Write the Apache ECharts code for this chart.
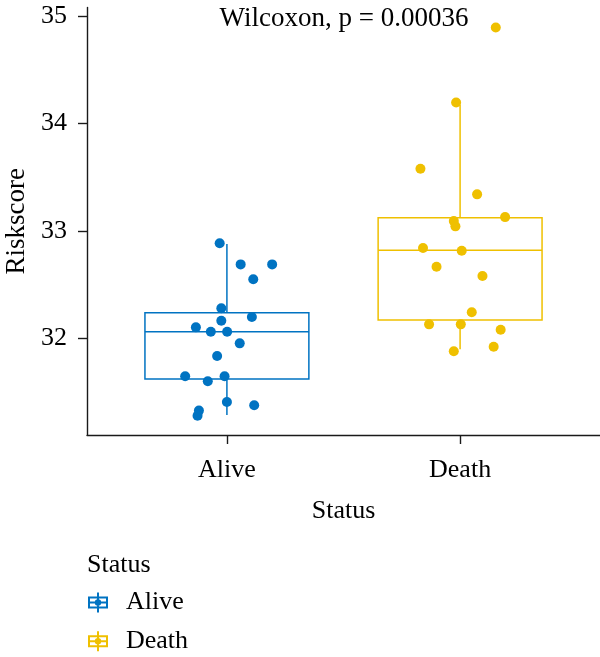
<!DOCTYPE html>
<html>
<head>
<meta charset="utf-8">
<script src="https://cdn.jsdelivr.net/npm/echarts@6/dist/echarts.min.js"></script>
<style>html,body{margin:0;padding:0;background:#fff}#c{width:600px;height:657px}</style>
</head>
<body>
<div id="c"></div>
<script>
// ---- data ----
const categories = ['Alive', 'Death'];
const aliveRisk = [32.884, 32.688, 32.688, 32.549, 32.279, 32.198, 32.164, 32.102, 32.061, 32.061,
                   31.953, 31.835, 31.647, 31.647, 31.600, 31.407, 31.377, 31.327, 31.280];
const aliveJitter = [0.969, 1.059, 1.194, 1.113, 0.976, 1.107, 0.976, 0.867, 0.931, 1.001,
                     1.055, 0.958, 0.821, 0.990, 0.918, 1.000, 1.117, 0.880, 0.874];
const deathRisk = [34.893, 34.195, 33.578, 33.340, 33.128, 33.091, 33.042, 32.840, 32.815,
                   32.666, 32.580, 32.242, 32.130, 32.130, 32.080, 31.922, 31.879];
const deathJitter = [2.153, 1.983, 1.830, 2.073, 2.193, 1.973, 1.980, 1.841, 2.007,
                     1.899, 2.096, 2.050, 1.867, 2.003, 2.174, 2.144, 1.973];
// box stats: [lower whisker, Q1, median, Q3, upper whisker]
const aliveBox = [31.287, 31.621, 32.062, 32.238, 32.877];
const deathBox = [31.898, 32.170, 32.820, 33.122, 34.175];
const yTicks = [32, 33, 34, 35];
const pLabel = 'Wilcoxon, p = 0.00036';

// ---- style ----
const colors = ['#0073C2', '#EFC000'];
const FONT = 'Liberation Serif';
const BOX_HALF = 0.3515;

const chart = echarts.init(document.getElementById('c'), null, {renderer: 'canvas'});

function renderBox(params, api) {
  const x = api.value(0);
  const tl = api.coord([x - BOX_HALF, api.value(4)]);
  const br = api.coord([x + BOX_HALF, api.value(2)]);
  const med = api.coord([x, api.value(3)]);
  const lo = api.coord([x, api.value(1)]);
  const hi = api.coord([x, api.value(5)]);
  const col = colors[params.dataIndex];
  const ls = {stroke: col, lineWidth: 1.5, fill: null};
  return {
    type: 'group',
    children: [
      {type: 'line', shape: {x1: hi[0], y1: hi[1], x2: hi[0], y2: tl[1]}, style: ls},
      {type: 'line', shape: {x1: lo[0], y1: br[1], x2: lo[0], y2: lo[1]}, style: ls},
      {type: 'rect', shape: {x: tl[0], y: tl[1], width: br[0] - tl[0], height: br[1] - tl[1]},
       style: {stroke: col, lineWidth: 1.5, fill: '#ffffff'}},
      {type: 'line', shape: {x1: tl[0], y1: med[1], x2: br[0], y2: med[1]}, style: ls}
    ]
  };
}

const legendIcon = 'path://M0 4H20V16H0Z' +
  'M2 6V9H9V6Z' + 'M11 6V9H18V6Z' +
  'M2 11V14H9V11Z' + 'M11 11V14H18V11Z' +
  'M9 0H11V4H9Z' + 'M9 16H11V20H9Z' +
  'M13.2 10A3.2 3.2 0 1 1 6.8 10A3.2 3.2 0 1 1 13.2 10Z';

const option = {
  backgroundColor: '#ffffff',
  animation: false,
  textStyle: {fontFamily: FONT},
  grid: {left: 87, top: 7.4, width: 513, height: 427.6, containLabel: false, outerBoundsMode: 'none'},
  xAxis: {
    type: 'value', min: 0.4, max: 2.6,
    name: 'Status', nameLocation: 'middle', nameGap: 63,
    nameTextStyle: {fontFamily: FONT, fontSize: 26, color: '#000'},
    axisLine: {show: true, onZero: false, lineStyle: {color: '#1a1a1a', width: 1.4}},
    axisTick: {show: true, customValues: [1, 2], length: 9, lineStyle: {color: '#1a1a1a', width: 1.4}},
    axisLabel: {customValues: [1, 2], margin: 22, fontFamily: FONT, fontSize: 26, color: '#000',
      formatter: v => categories[Math.round(v) - 1]},
    splitLine: {show: false}
  },
  yAxis: {
    type: 'value', min: 31.1, max: 35.08,
    name: 'Riskscore', nameLocation: 'middle', nameGap: 55, nameRotate: 90,
    nameTextStyle: {fontFamily: FONT, fontSize: 27, color: '#000'},
    axisLine: {show: true, onZero: false, lineStyle: {color: '#1a1a1a', width: 1.4}},
    axisTick: {show: true, customValues: yTicks, length: 9, lineStyle: {color: '#1a1a1a', width: 1.4}},
    axisLabel: {customValues: yTicks, margin: 20, fontFamily: FONT, fontSize: 26, color: '#000'},
    splitLine: {show: false}
  },
  legend: {
    orient: 'vertical', left: 88, top: 589.5, height: 120, padding: 0,
    itemWidth: 20, itemHeight: 20, itemGap: 12.8, selectedMode: false,
    icon: legendIcon,
    textStyle: {fontFamily: FONT, fontSize: 26, lineHeight: 20, color: '#000', padding: [0, 0, 0, 13]},
    data: categories
  },
  graphic: [
    {type: 'text', x: 344, y: 19, style: {text: pLabel, font: '27px "Liberation Serif"', fill: '#000',
      textAlign: 'center', textVerticalAlign: 'middle'}},
    {type: 'text', x: 87, y: 565, style: {text: 'Status', font: '26px "Liberation Serif"', fill: '#000',
      textAlign: 'left', textVerticalAlign: 'middle'}}
  ],
  series: [
    {
      type: 'custom', name: 'box', renderItem: renderBox, silent: true, z: 1,
      encode: {x: 0, y: [1, 5]},
      data: [[1].concat(aliveBox), [2].concat(deathBox)]
    },
    {
      type: 'scatter', name: categories[0], z: 3, symbolSize: 10,
      itemStyle: {color: colors[0], opacity: 1},
      data: aliveRisk.map((v, i) => [aliveJitter[i], v])
    },
    {
      type: 'scatter', name: categories[1], z: 3, symbolSize: 10,
      itemStyle: {color: colors[1], opacity: 1},
      data: deathRisk.map((v, i) => [deathJitter[i], v])
    }
  ]
};
chart.setOption(option);
</script>
</body>
</html>
